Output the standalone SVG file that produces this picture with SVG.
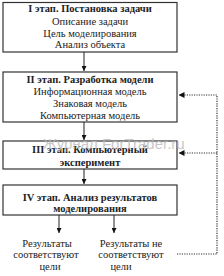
<svg xmlns="http://www.w3.org/2000/svg" width="224" height="276" viewBox="0 0 224 276">
<defs>
<style>
.box{fill:#fff;stroke:#333;stroke-width:1.2}
.t{font-family:"Liberation Serif","Times New Roman",serif;font-size:10.5px;fill:#222;text-anchor:middle}
.b{font-weight:bold}
.c{stroke:#222;stroke-width:1;fill:none}
.d{stroke:#333;stroke-width:1.2;stroke-dasharray:1.2 1.2;fill:none}
.wm{font-family:"Liberation Sans",Arial,sans-serif;font-size:15px;fill:#bbb;opacity:0.8}
</style>
<marker id="ah" viewBox="0 0 6 6" refX="6" refY="3" markerWidth="5" markerHeight="5" orient="auto"><path d="M0,0L6,3L0,6z" fill="#111"/></marker>
</defs>
<rect width="224" height="276" fill="#fff"/>
<g id="n1">
<rect class="box" x="3" y="2.5" width="174" height="49.5"/>
<text class="t b" x="90" y="12">I этап. Постановка задачи</text>
<text class="t" x="90" y="25">Описание задачи</text>
<text class="t" x="90" y="37">Цель моделирования</text>
<text class="t" x="90" y="48">Анализ объекта</text>
</g>
<g id="n2">
<rect class="box" x="3" y="72" width="174" height="50"/>
<text class="t b" x="90" y="82.5">II этап. Разработка модели</text>
<text class="t" x="90" y="95">Информационная модель</text>
<text class="t" x="90" y="107">Знаковая модель</text>
<text class="t" x="90" y="118.5">Компьютерная модель</text>
</g>
<g id="n3">
<rect class="box" x="3" y="141" width="174" height="28"/>
<text class="t b" x="90" y="152.5">III этап. Компьютерный</text>
<text class="t b" x="90" y="165.5">эксперимент</text>
</g>
<g id="n4">
<rect class="box" x="3" y="185" width="174" height="30"/>
<text class="t b" x="90" y="200.5">IV этап. Анализ результатов</text>
<text class="t b" x="90" y="212">моделирования</text>
</g>
<g id="n5">
<text class="t" x="47" y="247">Результаты</text>
<text class="t" x="46" y="258">соответствуют</text>
<text class="t" x="50" y="270">цели</text>
</g>
<g id="n6">
<text class="t" x="131" y="247">Результаты не</text>
<text class="t" x="131" y="258">соответствуют</text>
<text class="t" x="121" y="270">цели</text>
</g>
<g id="connectors">
<line class="c" x1="84" y1="52" x2="84" y2="71" marker-end="url(#ah)"/>
<line class="c" x1="84" y1="122" x2="84" y2="140" marker-end="url(#ah)"/>
<line class="c" x1="84" y1="169" x2="84" y2="184" marker-end="url(#ah)"/>
<line class="c" x1="59" y1="215" x2="59" y2="233" marker-end="url(#ah)"/>
<line class="c" x1="114" y1="215" x2="114" y2="233" marker-end="url(#ah)"/>
<polyline class="d" points="177,254 217,254 217,95 178.5,95" marker-end="url(#ah)"/>
<line class="d" x1="217" y1="153" x2="178.5" y2="153" marker-end="url(#ah)"/>
</g>
<text class="wm" x="43" y="149">Журнал ForTrader.ru</text>
</svg>
